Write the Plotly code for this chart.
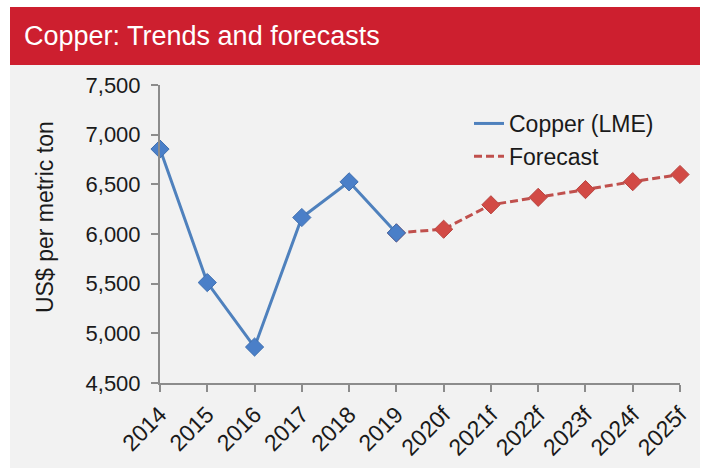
import plotly.graph_objects as go

categories = ["2014", "2015", "2016", "2017", "2018", "2019",
              "2020f", "2021f", "2022f", "2023f", "2024f", "2025f"]
actual_values = [6855, 5511, 4862, 6166, 6525, 6011]
forecast_values = [6011, 6048, 6294, 6369, 6447, 6527, 6599]
y_ticks = [4500, 5000, 5500, 6000, 6500, 7000, 7500]

x_idx = list(range(len(categories)))
act_x = x_idx[:len(actual_values)]
fc_x = x_idx[len(actual_values) - 1:]

W, H = 708, 468
L, R, T, B = 160, 28, 85, 85
pw, ph = W - L - R, H - T - B

def px(x):
    return (x - L) / pw

def py(y):
    return (H - B - y) / ph

FONT = "Liberation Sans, Arial, sans-serif"
BLUE = "#4f81bd"
RED = "#c0504d"
DASH = "8px,4px"

fig = go.Figure()
fig.add_trace(go.Scatter(
    x=fc_x, y=forecast_values, mode="lines+markers", showlegend=False,
    line=dict(color=RED, width=3, dash=DASH), cliponaxis=False,
    marker=dict(symbol="diamond", size=14, color="#d24a45",
                line=dict(color="#b84440", width=1)),
))
fig.add_trace(go.Scatter(
    x=act_x, y=actual_values, mode="lines+markers", showlegend=False,
    line=dict(color=BLUE, width=3), cliponaxis=False,
    marker=dict(symbol="diamond", size=14, color="#4a7fc8",
                line=dict(color="#3f6fb0", width=1)),
))
# legend entries (line only, as in the reference)
fig.add_trace(go.Scatter(x=[None], y=[None], mode="lines", name="Copper (LME)",
                         line=dict(color=BLUE, width=3)))
fig.add_trace(go.Scatter(x=[None], y=[None], mode="lines", name="Forecast",
                         line=dict(color=RED, width=3, dash=DASH)))

shapes = [
    dict(type="rect", xref="paper", yref="paper", x0=px(10), x1=px(700),
         y0=py(468), y1=py(65), fillcolor="#f2f2f2", line=dict(width=0), layer="below"),
    dict(type="rect", xref="paper", yref="paper", x0=px(10), x1=px(700),
         y0=py(65), y1=py(7), fillcolor="#cd1f2f", line=dict(width=0), layer="below"),
]

fig.update_layout(
    width=W, height=H,
    margin=dict(l=L, r=R, t=T, b=B, autoexpand=False),
    paper_bgcolor="white",
    plot_bgcolor="rgba(0,0,0,0)",
    shapes=shapes,
    showlegend=True,
    legend=dict(x=px(469), y=py(102), xanchor="left", yanchor="top",
                font=dict(family=FONT, size=23, color="#1a1a1a"),
                bgcolor="rgba(0,0,0,0)", traceorder="normal",
                itemwidth=30, tracegroupgap=0),
    annotations=[dict(text="Copper: Trends and forecasts", xref="paper", yref="paper",
                      x=px(22), y=py(36), xanchor="left", yanchor="middle",
                      showarrow=False, font=dict(family=FONT, size=27, color="white")),
                 dict(text="US$ per metric ton", xref="paper", yref="paper",
                      x=px(45), y=py(217), xanchor="center", yanchor="middle",
                      textangle=-90, showarrow=False,
                      font=dict(family=FONT, size=23, color="#1a1a1a"))],
    hovermode=False,
)
fig.update_xaxes(
    range=[0, len(categories) - 1], tickvals=x_idx, ticktext=categories,
    tickangle=-45, ticks="outside", ticklen=7, tickwidth=2, tickcolor="#8c8c8c",
    showline=True, linecolor="#8c8c8c", linewidth=2, showgrid=False, zeroline=False,
    tickfont=dict(family=FONT, size=23, color="#1a1a1a"), automargin=False,
)
fig.update_yaxes(
    range=[4500, 7500], tickvals=y_ticks, tickformat=",",
    ticks="outside", ticklen=7, tickwidth=2, tickcolor="#8c8c8c",
    ticklabelstandoff=6, automargin=False,
    showline=True, linecolor="#8c8c8c", linewidth=2, showgrid=False, zeroline=False,
    tickfont=dict(family=FONT, size=22, color="#1a1a1a"),
)

fig.write_html("out.html")
